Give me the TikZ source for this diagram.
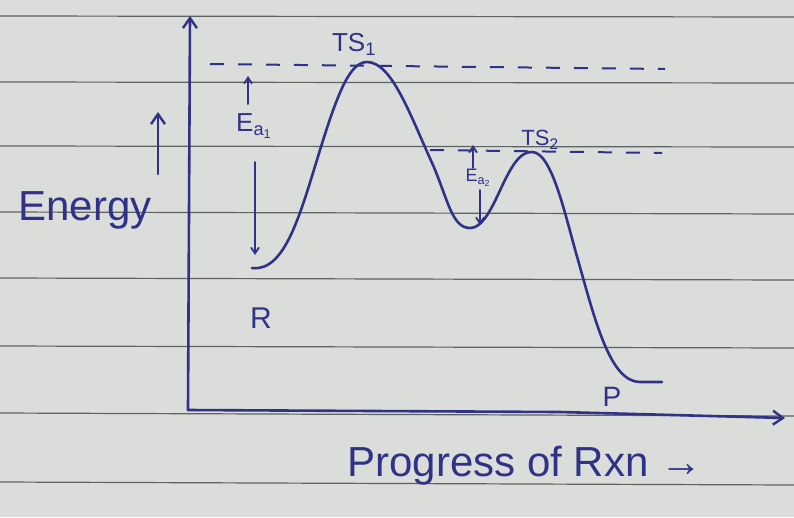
\documentclass[tikz,border=0pt]{standalone}
\usepackage{fontspec}
\setmainfont{Liberation Sans}
\usetikzlibrary{arrows.meta}
\definecolor{ink}{RGB}{48,50,135}
\definecolor{paper}{RGB}{218,221,218}
\definecolor{rule}{RGB}{95,98,98}
\tikzset{
  pen/.style={draw=ink, line width=2.6pt, line cap=round, line join=round},
  inktext/.style={text=ink, inner sep=0pt},
  barb/.style={-{Straight Barb[length=10pt,width=14pt,line width=2.4pt]}},
  smallbarb/.style={-{Straight Barb[length=6pt,width=8pt,line width=1.8pt]}},
  dashline/.style={draw=ink, line width=2pt, dash pattern=on 14pt off 14pt},
  paperline/.style={draw=rule, line width=1.2pt}
}
\begin{document}
\begin{tikzpicture}[x=1pt,y=-1pt]
\fill[paper] (0,0) rectangle (794,517);
\useasboundingbox (0,0) rectangle (794,517);
% ruled lines of the paper
\foreach \yy/\dy in {16/1,82/1,146/1,212/2,278/2,346/2,413/3,482/3}
  \draw[paperline] (0,\yy) -- (794,\yy+\dy);

% axes
\coordinate (O) at (188,410);
\coordinate (Ytop) at (190,16);
\coordinate (Xend) at (785,418);
\draw[pen, barb] (O) -- (Ytop);
\draw[pen, barb] (O) -- (560,412) -- (Xend);

% dashed levels
\coordinate (D1a) at (210,64); \coordinate (D1b) at (665,69);
\coordinate (D2a) at (430,150); \coordinate (D2b) at (662,153);
\draw[dashline] (D1a) -- (D1b);
\draw[dashline] (D2a) -- (D2b);

% energy profile
\coordinate (Rs) at (252,268);
\coordinate (TS1) at (367,62);
\coordinate (Int) at (470,228);
\coordinate (TS2) at (532,152);
\coordinate (Pe) at (662,382);
\draw[pen]
  (Rs) .. controls (285,272) and (300,215) .. (320,150)
       .. controls (338,92) and (350,62) .. (TS1)
       .. controls (392,62) and (410,115) .. (433,165)
       .. controls (448,200) and (452,228) .. (Int)
       .. controls (485,228) and (495,200) .. (505,180)
       .. controls (515,160) and (522,152) .. (TS2)
       .. controls (552,152) and (565,215) .. (578,260)
       .. controls (595,320) and (610,382) .. (640,382)
       -- (Pe);

% labels
\node[inktext, font=\fontsize{26}{26}\selectfont] (ts1) at (354,44) {TS\textsubscript{1}};
\node[inktext, font=\fontsize{22}{22}\selectfont] (ts2) at (540,140) {TS\textsubscript{2}};

\node[inktext, font=\fontsize{26}{26}\selectfont] (ea1) at (254,126) {E\textsubscript{a\textsubscript{1}}};
\coordinate (ea1up) at (248,76);
\coordinate (ea1dn) at (255,255);
\draw[pen, line width=2pt, smallbarb] (248,104) -- (ea1up);
\draw[pen, line width=2pt, smallbarb] (255,162) -- (ea1dn);

\node[inktext, font=\fontsize{18}{18}\selectfont] (ea2) at (478,178) {E\textsubscript{a\textsubscript{2}}};
\coordinate (ea2up) at (473,145);
\coordinate (ea2dn) at (480,225);
\draw[pen, line width=1.8pt, smallbarb] (473,168) -- (ea2up);
\draw[pen, line width=1.8pt, smallbarb] (480,190) -- (ea2dn);

\node[inktext, font=\fontsize{30}{30}\selectfont] (R) at (261,318) {R};
\node[inktext, font=\fontsize{28}{28}\selectfont] (P) at (612,397) {P};

\node[inktext, font=\fontsize{42}{42}\selectfont] (en) at (85,210) {Energy};
\coordinate (enup) at (158,112);
\draw[pen, barb] (158,174) -- (enup);

\node[inktext, font=\fontsize{42}{42}\selectfont] (prog) at (525,466) {Progress of Rxn →};
\end{tikzpicture}
\end{document}
